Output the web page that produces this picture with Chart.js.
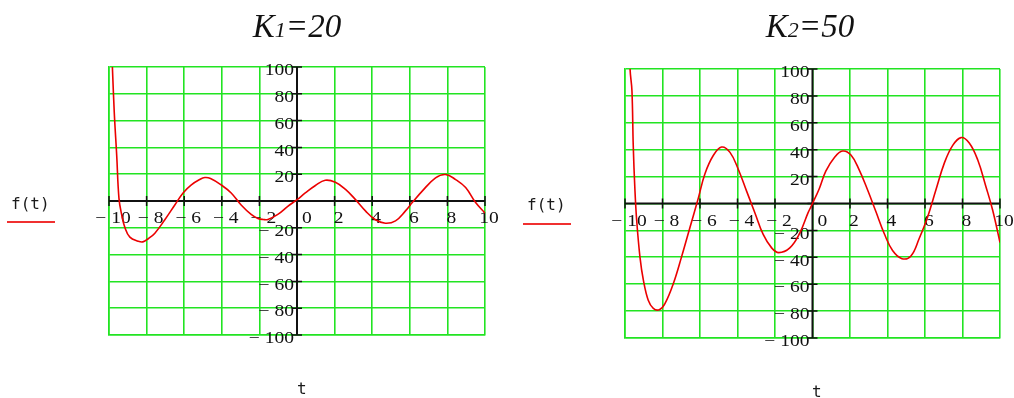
<!DOCTYPE html>
<html lang="en">
<head>
  <meta charset="UTF-8">
  <title>f(t) for K1=20 and K2=50</title>
  <script src="https://cdn.jsdelivr.net/npm/chart.js"></script>
  <style>
    body {
      margin: 0;
      background: #fff;
      width: 1014px;
      height: 398px;
      position: relative;
      overflow: hidden;
    }
    .panel {
      position: absolute;
      top: 0;
      width: 507px;
      height: 398px;
    }
    .title {
      position: absolute;
      top: 10px;
      width: 200px;
      text-align: center;
      font-family: "Liberation Serif", serif;
      font-style: italic;
      font-size: 33px;
      line-height: 33px;
      color: #111;
    }
    .title small { font-size: 22px; }
    .fname, .tname {
      position: absolute;
      font-family: "DejaVu Sans Mono", monospace;
      font-size: 16px;
      line-height: 16px;
      color: #1a1a1a;
    }
    .fline {
      position: absolute;
      height: 2px;
      background: #f03030;
    }
  </style>
</head>
<body>
  <div class="panel" style="left:0"><canvas id="chartK1" width="507" height="398"></canvas></div>
  <div class="panel" style="left:507px"><canvas id="chartK2" width="507" height="398"></canvas></div>

  <div class="title" style="left:197px">K<small>1</small>=20</div>
  <div class="title" style="left:710px">K<small>2</small>=50</div>

  <div class="fname" style="left:11px;top:196px">f(t)</div>
  <div class="fline" style="left:7px;top:221px;width:48px"></div>
  <div class="fname" style="left:527px;top:197px">f(t)</div>
  <div class="fline" style="left:523px;top:223px;width:48px"></div>

  <div class="tname" style="left:297px;top:381px">t</div>
  <div class="tname" style="left:812px;top:384px">t</div>

  <script>
    // f(t) sampled for K1 = 20
    const tK1 = [-10, -9.82, -9.72, -9.59, -9.47, -9.33, -9.15, -8.89, -8.45, -8.2, -7.9, -7.56,
      -7.03, -6.5, -6.06, -5.62, -5.18, -4.9, -4.6, -4.03, -3.5, -2.97, -2.44, -2.08, -1.8, -1.55,
      -1.02, -0.49, 0, 0.44, 0.98, 1.5, 2.04, 2.58, 3.1, 3.64, 4.17, 4.7, 5.24, 5.77, 6.13, 6.66,
      7.37, 7.9, 8.44, 8.97, 9.5, 10];
    const fK1 = [160, 100, 66, 34, 2, -10, -20, -27, -30, -30.5, -28, -24,
      -14, -3, 6, 12, 16, 17.5, 16.8, 12, 6, -3, -10, -13, -13.8, -13.8,
      -10, -4, 1, 6, 11.6, 15.5, 14, 8.7, 1.2, -7.4, -14, -16.6, -14.8, -7.4, -1.2, 7.4,
      17.3, 19.8, 16, 10, -1.2, -9];

    // f(t) sampled for K2 = 50
    const tK2 = [-10, -9.73, -9.63, -9.56, -9.47, -9.38, -9.2, -9.02, -8.76, -8.49, -8.17, -7.87,
      -7.42, -6.98, -6.54, -6.09, -5.74, -5.3, -4.85, -4.4, -3.96, -3.51, -3.07, -2.63, -2.18, -1.8,
      -1.21, -0.68, -0.24, 0, 0.36, 0.71, 1.16, 1.6, 2.05, 2.49, 2.94, 3.38, 3.83, 4.27, 4.77, 5.25,
      5.69, 6.14, 6.58, 7.03, 7.47, 7.92, 8.36, 8.81, 9.25, 9.61, 10];
    const fK2 = [210, 100, 84, 43, 10, -12, -40, -57, -72, -78, -79, -74.5,
      -59.5, -39.5, -18, 4, 22, 35.5, 42, 38, 25.5, 9, -7, -23, -33, -36.5,
      -33, -22, -7, 0, 11, 24, 34, 39, 36, 25, 10, -6, -22.5, -35, -41, -39,
      -26, -10, 10, 30, 43, 49, 45, 32.5, 12.5, -5, -29];

    // axis ranges
    const tRange = [-10, 10];
    const fRange = [-100, 100];
    const tStep = 2;
    const fStep = 20;

    const GRID = 'rgb(34, 228, 34)';
    const CURVE = 'rgb(235, 0, 0)';
    const INK = '#111';

    function fmt(v) {
      return v < 0 ? '\u2212 ' + Math.abs(v) : String(v);
    }

    // tick text is drawn a little wider than the plain serif face
    function wideText(ctx, text, x, y, align) {
      const sx = 1.22;
      const w = ctx.measureText(text).width * sx;
      let left = x;
      if (align === 'center') left = x - w / 2;
      if (align === 'right') left = x - w;
      ctx.save();
      ctx.translate(left, y);
      ctx.scale(sx, 1);
      ctx.textAlign = 'left';
      ctx.fillText(text, 0, 0);
      ctx.restore();
    }

    // black axes through the origin, with tick marks and labels next to them
    const originAxes = {
      id: 'originAxes',
      beforeDatasetsDraw(chart) {
        const { ctx } = chart;
        const x = chart.scales.x, y = chart.scales.y;
        const x0 = x.getPixelForValue(0);
        const y0 = y.getPixelForValue(0);
        ctx.save();
        ctx.strokeStyle = INK;
        ctx.lineWidth = 2;
        ctx.beginPath();
        ctx.moveTo(x.left, y0);
        ctx.lineTo(x.right, y0);
        ctx.moveTo(x0, y.top);
        ctx.lineTo(x0, y.bottom);
        ctx.stroke();
        ctx.lineWidth = 1.5;
        ctx.beginPath();
        x.ticks.forEach(t => {
          const px = x.getPixelForValue(t.value);
          ctx.moveTo(px, y0 - 5);
          ctx.lineTo(px, y0 + 5);
        });
        y.ticks.forEach(t => {
          const py = y.getPixelForValue(t.value);
          ctx.moveTo(x0 - 5, py);
          ctx.lineTo(x0 + 5, py);
        });
        ctx.stroke();

        ctx.fillStyle = INK;
        ctx.font = '16px "Liberation Serif"';
        ctx.textBaseline = 'middle';
        x.ticks.forEach(t => {
          const px = x.getPixelForValue(t.value);
          wideText(ctx, fmt(t.value), px + (t.value === 0 ? 10 : 4), y0 + 18, 'center');
        });
        y.ticks.forEach(t => {
          if (t.value === 0) return;
          const py = y.getPixelForValue(t.value);
          wideText(ctx, fmt(t.value), x0 - 3, py + 4, 'right');
        });
        ctx.restore();
      }
    };

    function makeChart(id, ts, fs, pad) {
      const ctx = document.getElementById(id).getContext('2d');
      return new Chart(ctx, {
        type: 'line',
        data: {
          datasets: [{
            data: ts.map((t, i) => ({ x: t, y: fs[i] })),
            borderColor: CURVE,
            borderWidth: 1.6,
            pointRadius: 0,
            fill: false,
            tension: 0.4
          }]
        },
        options: {
          responsive: false,
          animation: false,
          layout: { padding: pad },
          plugins: { legend: { display: false }, tooltip: { enabled: false } },
          scales: {
            x: {
              type: 'linear',
              min: tRange[0],
              max: tRange[1],
              ticks: { stepSize: tStep, display: false },
              grid: { color: GRID, lineWidth: 1.6, drawTicks: false },
              border: { color: GRID, width: 1.6 }
            },
            y: {
              type: 'linear',
              min: fRange[0],
              max: fRange[1],
              ticks: { stepSize: fStep, display: false },
              grid: { color: GRID, lineWidth: 1.6, drawTicks: false },
              border: { color: GRID, width: 1.6 }
            }
          }
        },
        plugins: [originAxes]
      });
    }

    makeChart('chartK1', tK1, fK1, { left: 109, right: 22, top: 67, bottom: 63 });
    makeChart('chartK2', tK2, fK2, { left: 118, right: 14, top: 69, bottom: 60 });
  </script>
</body>
</html>
